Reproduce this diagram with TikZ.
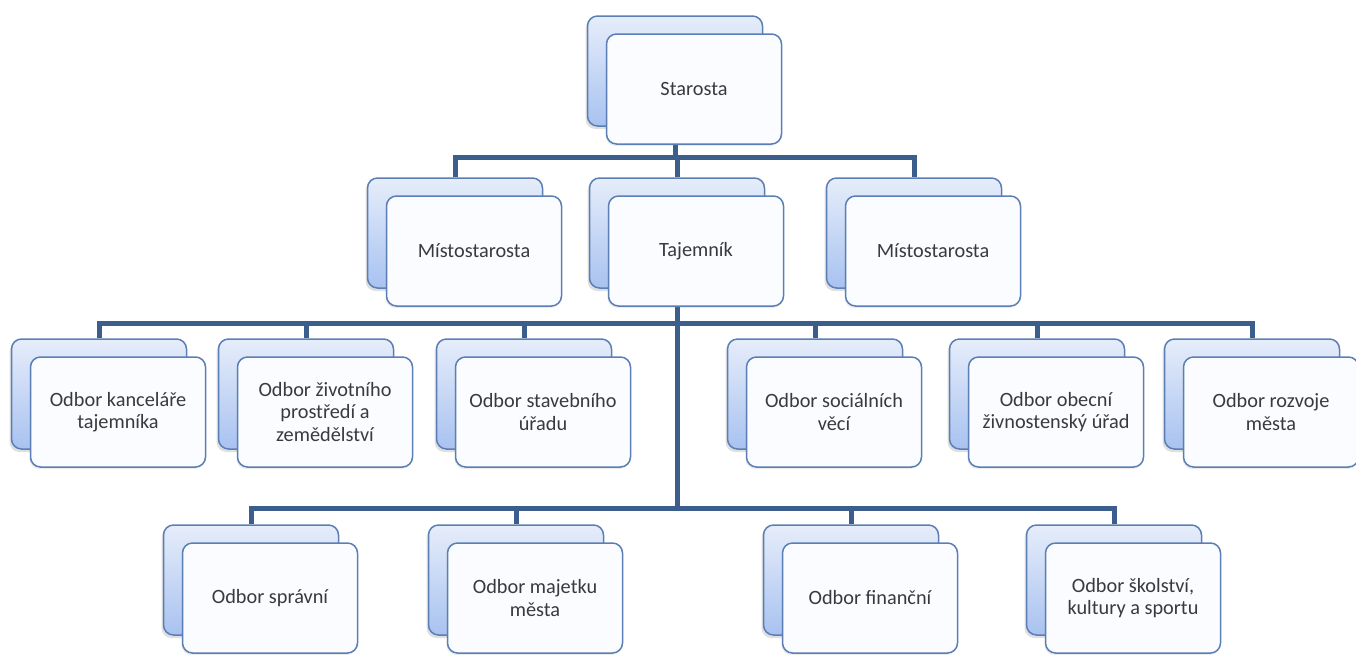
\documentclass[tikz,border=0pt]{standalone}
\usepackage{fontspec}
\setmainfont{Carlito}
\usetikzlibrary{backgrounds,shadows}
\definecolor{conncol}{HTML}{3B5E8C}
\definecolor{bordcol}{HTML}{5B7FB5}
\definecolor{backtop}{HTML}{E6EDFA}
\definecolor{backbot}{HTML}{A8C2F0}
\definecolor{frontfill}{HTML}{FAFCFF}
\definecolor{txtcol}{HTML}{3A3A3A}
\tikzset{
  backbox/.style={draw=bordcol, line width=1.5pt, rounded corners=10pt,
    minimum width=175pt, minimum height=110pt, inner sep=0pt,
    top color=backtop, bottom color=backbot,
    drop shadow={shadow xshift=-2pt, shadow yshift=-3pt, opacity=0.25}},
  frontbox/.style={draw=bordcol, line width=1.5pt, rounded corners=10pt,
    minimum width=175pt, minimum height=110pt, inner sep=2pt,
    fill=frontfill, text=txtcol, align=center,
    font=\fontsize{20.3}{22.5}\selectfont,
    drop shadow={shadow xshift=-1pt, shadow yshift=-2pt, opacity=0.15}},
  conn/.style={draw=conncol, line width=5pt},
}
\begin{document}
\begin{tikzpicture}[x=1pt,y=-1pt]
\useasboundingbox (0,0) rectangle (1356,654);
% unit macro: name, front center
\newcommand\myunit[4]{%
  \node[backbox] (#1b) at ({#2-19},{#3-18}) {};
  \node[frontbox] (#1) at (#2,#3) {#4};
}
\myunit{s}{694}{89}{Starosta}
\myunit{ml}{474}{251}{Místostarosta}
\myunit{t}{696}{251}{Tajemník}
\myunit{mr}{933}{251}{Místostarosta}
\myunit{a}{118}{412}{Odbor kanceláře\\tajemníka}
\myunit{b}{325}{412}{Odbor životního\\prostředí a\\zemědělství}
\myunit{c}{543}{412}{Odbor stavebního\\úřadu}
\myunit{d}{834}{412}{Odbor sociálních\\věcí}
\myunit{e}{1056}{412}{Odbor obecní\\živnostenský úřad}
\myunit{f}{1271}{412}{Odbor rozvoje\\města}
\myunit{g}{270}{598}{Odbor správní}
\myunit{h}{535}{598}{Odbor majetku\\města}
\myunit{i}{870}{598}{Odbor finanční}
\myunit{j}{1133}{598}{Odbor školství,\\kultury a sportu}
\coordinate (bus1) at (0,157);
\coordinate (bus2) at (0,323);
\coordinate (bus3) at (0,508);
\begin{scope}[on background layer]
  \foreach \n in {mlb,tb,mrb}
    \draw[conn] (sb.south) -- (sb.south |- bus1) -| (\n.north);
  \foreach \n in {ab,bb,cb,db,eb,fb}
    \draw[conn] (tb.south) -- (tb.south |- bus2) -| (\n.north);
  \foreach \n in {gb,hb,ib,jb}
    \draw[conn] (tb.south) -- (tb.south |- bus3) -| (\n.north);
\end{scope}
\end{tikzpicture}
\end{document}
